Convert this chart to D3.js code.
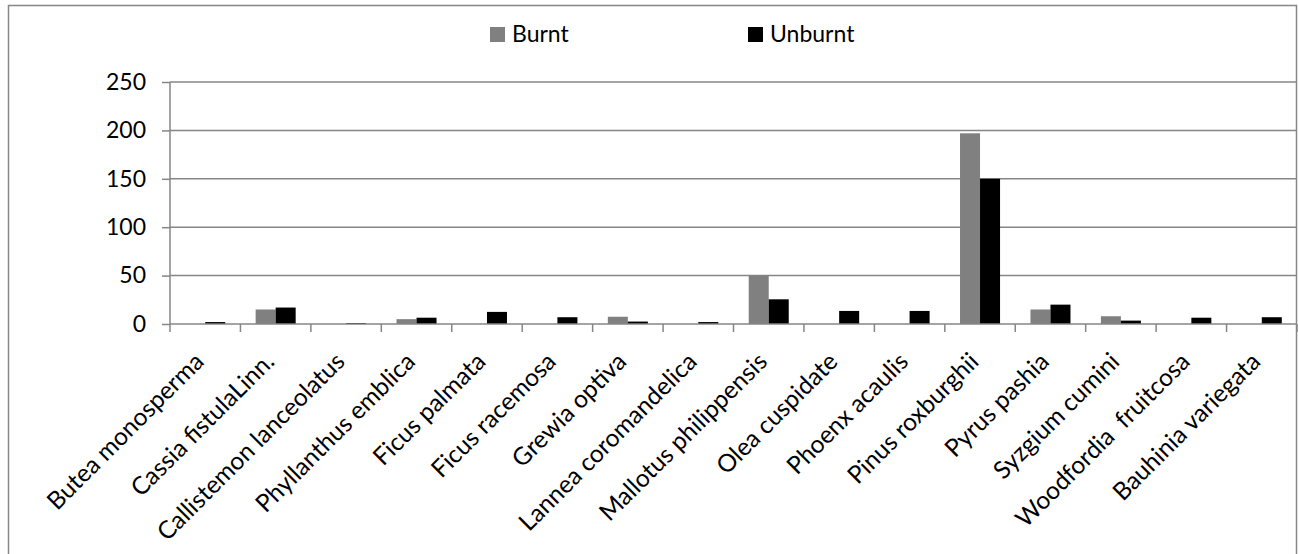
<!DOCTYPE html>
<html>
<head>
<meta charset="utf-8">
<script src="https://cdn.jsdelivr.net/npm/d3@7"></script>
<style>
  html, body { margin: 0; padding: 0; background: #fff; }
  svg { display: block; font-family: Lato, "Open Sans", sans-serif; }
</style>
</head>
<body>
<svg id="chart" width="1299" height="554"></svg>
<script>
const categories = ["Butea monosperma", "Cassia fistulaLinn.", "Callistemon lanceolatus", "Phyllanthus emblica",
  "Ficus palmata", "Ficus racemosa", "Grewia optiva", "Lannea coromandelica", "Mallotus philippensis",
  "Olea cuspidate", "Phoenx acaulis", "Pinus roxburghii", "Pyrus pashia", "Syzgium cumini",
  "Woodfordia  fruitcosa", "Bauhinia variegata"];
const seriesNames = ["Burnt", "Unburnt"];
const burnt   = [0, 15, 0, 5, 0, 0, 7.5, 0, 50, 0, 0, 197, 15, 8, 0, 0];
const unburnt = [2, 17, 1, 6.5, 12.5, 7, 2.5, 2, 25.5, 13.5, 13.5, 150, 20, 3.5, 6.5, 7];
const yTicks = [0, 50, 100, 150, 200, 250];
const colors = ["#808080", "#000000"];

const svg = d3.select("#chart");
const pLeft = 170, pRight = 1297, pTop = 82, pBottom = 324;
const axisColor = "#868686";

// outer border
svg.append("rect").attr("x", 8.5).attr("y", 5.5).attr("width", 1288).attr("height", 560)
  .attr("fill", "none").attr("stroke", axisColor).attr("stroke-width", 1.5);

const x0 = d3.scaleBand().domain(categories).range([pLeft, pRight]).paddingInner(0).paddingOuter(0);
const x1 = d3.scaleBand().domain(seriesNames).range([0, x0.bandwidth()]).paddingInner(0).paddingOuter(0.76);
const y = d3.scaleLinear().domain([0, 250]).range([pBottom, pTop]);

// gridlines
svg.append("g").selectAll("line").data(yTicks.filter(d => d > 0)).join("line")
  .attr("x1", pLeft).attr("x2", pRight)
  .attr("y1", d => y(d)).attr("y2", d => y(d))
  .attr("stroke", axisColor).attr("stroke-width", 1.5);

// bars
const rows = categories.map((c, i) => ({ cat: c, values: [burnt[i], unburnt[i]] }));
const g = svg.append("g");
rows.forEach(r => {
  seriesNames.forEach((s, j) => {
    const v = r.values[j];
    if (v <= 0) return;
    g.append("rect")
      .attr("x", x0(r.cat) + x1(s))
      .attr("y", y(v))
      .attr("width", x1.bandwidth())
      .attr("height", y(0) - y(v))
      .attr("fill", colors[j]);
  });
});

// y axis
const yAxis = d3.axisLeft(y).tickValues(yTicks).tickSize(8).tickPadding(16).tickFormat(d3.format("d"));
const ya = svg.append("g").attr("transform", `translate(${pLeft},0)`).call(yAxis);
ya.select(".domain").attr("stroke", axisColor).attr("stroke-width", 1.5).attr("d", `M0,${pTop}V${pBottom}`);
ya.selectAll(".tick line").attr("stroke", axisColor).attr("stroke-width", 1.5);
ya.selectAll(".tick text").attr("font-size", 23).attr("fill", "#000").attr("font-family", "Lato, sans-serif");

// x axis
const xAxis = d3.axisBottom(x0).tickSize(0).tickFormat("");
const xa = svg.append("g").attr("transform", `translate(0,${pBottom})`).call(xAxis);
xa.select(".domain").attr("stroke", axisColor).attr("stroke-width", 1.5).attr("d", `M${pLeft},0H${pRight}`);
xa.selectAll(".tick").remove();
const boundaries = categories.map(c => x0(c)).concat([pRight]);
xa.selectAll("line.bt").data(boundaries).join("line").attr("class", "bt")
  .attr("x1", d => d).attr("x2", d => d).attr("y1", 0).attr("y2", 8)
  .attr("stroke", axisColor).attr("stroke-width", 1.5);
svg.append("g").selectAll("text").data(categories).join("text")
  .attr("transform", d => `translate(${x0(d) + x0.bandwidth() / 2 - 6},${pBottom + 33}) rotate(-45)`)
  .attr("text-anchor", "end")
  .attr("dy", "0.35em")
  .attr("font-size", 24.5)
  .attr("fill", "#000")
  .attr("xml:space", "preserve")
  .style("white-space", "pre")
  .text(d => d);

// legend
const legend = svg.append("g");
const legendX = [490, 748];
seriesNames.forEach((s, j) => {
  legend.append("rect").attr("x", legendX[j]).attr("y", 27).attr("width", 15).attr("height", 15).attr("fill", colors[j]);
  legend.append("text").attr("x", legendX[j] + 22).attr("y", 42).attr("font-size", 23).attr("fill", "#000").text(s);
});
</script>
</body>
</html>
